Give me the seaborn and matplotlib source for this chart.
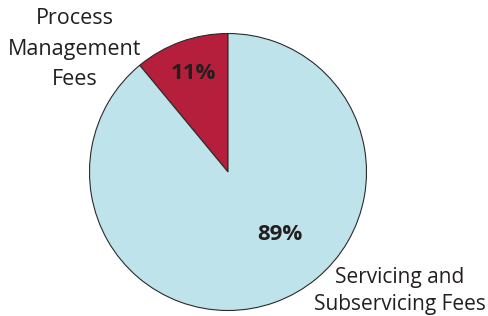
import matplotlib
matplotlib.use("Agg")
import matplotlib.pyplot as plt
import seaborn as sns

# data
categories = ["Process\nManagement\nFees", "Servicing and\nSubservicing Fees"]
shares = [11, 89]
colors = ["#b51f3b", "#bee3ea"]

sns.set_theme(style="white")
plt.rcParams["font.family"] = ["Open Sans", "DejaVu Sans"]

W, H = 489, 316
fig = plt.figure(figsize=(W / 100, H / 100), dpi=100)
ax = fig.add_axes([0, 0, 1, 1])

cx, cy, r = 228, H - 172, 138.5
ax.pie(shares, colors=colors, startangle=90, counterclock=True,
       center=(cx, cy), radius=r,
       wedgeprops=dict(edgecolor="#2b2b2b", linewidth=0.8))
ax.set_xlim(0, W)
ax.set_ylim(0, H)
ax.set_aspect("equal")
ax.axis("off")

txt = "#231f20"
# percentage labels
ax.text(193, H - 73, f"{shares[0]}%", ha="center", va="center",
        fontsize=16, fontweight="bold", color=txt)
ax.text(280, H - 235, f"{shares[1]}%", ha="center", va="center",
        fontsize=16, fontweight="bold", color=txt)

# category labels
ax.text(75, H - 49, categories[0], ha="center", va="center",
        fontsize=15.5, color=txt, linespacing=1.6)
ax.text(400, H - 291, categories[1], ha="center", va="center",
        fontsize=15, color=txt, linespacing=1.4)

fig.savefig("out.png", dpi=100)
